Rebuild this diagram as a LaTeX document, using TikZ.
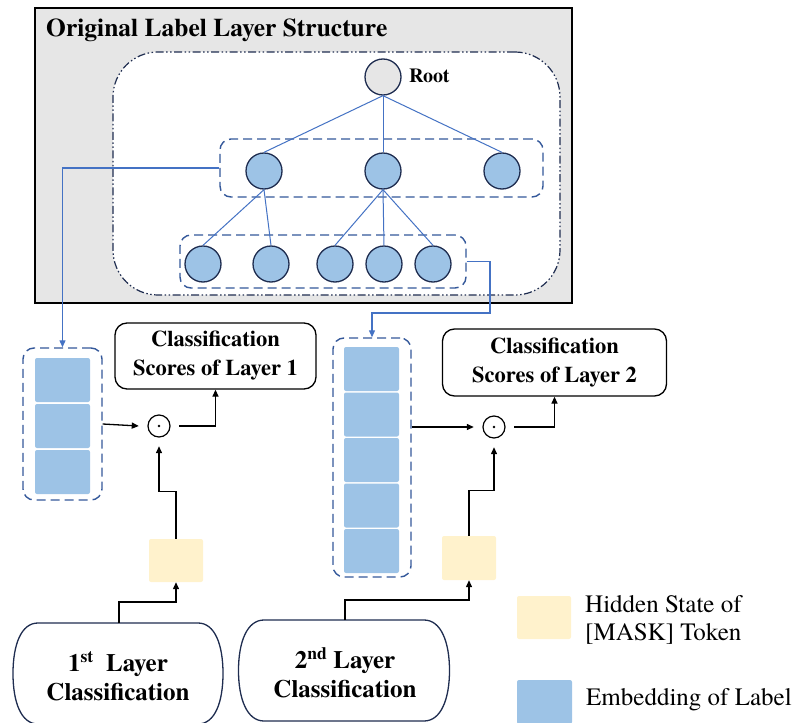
\documentclass[tikz,border=0pt]{standalone}
\usepackage{fontspec}
\setmainfont{TeX Gyre Termes}
\usetikzlibrary{arrows.meta}
\definecolor{embblue}{HTML}{9DC3E6}
\definecolor{hidyel}{HTML}{FFF2CC}
\definecolor{graybg}{HTML}{E6E6E6}
\definecolor{dashblue}{HTML}{34589A}
\definecolor{treeblue}{HTML}{4472C4}
\definecolor{navy}{HTML}{1F2D50}
\tikzset{
  treenode/.style={circle, draw=navy, line width=1.3pt, fill=embblue, minimum size=36pt, inner sep=0pt},
  rootnode/.style={treenode, fill=graybg},
  treeline/.style={draw=treeblue, line width=1pt},
  dashbox/.style={draw=dashblue, line width=1.4pt, dash pattern=on 9pt off 5pt, rounded corners=11pt, inner sep=0pt},
  embsq/.style={fill=embblue, rounded corners=2pt, minimum width=55pt, minimum height=44pt, inner sep=0pt},
  yelsq/.style={fill=hidyel, rounded corners=2pt, minimum width=54pt, minimum height=43pt, inner sep=0pt},
  blueconn/.style={draw=treeblue, line width=1.2pt, -{Triangle[length=7pt,width=6pt]}},
  blackconn/.style={draw=black, line width=1.3pt, -{Triangle[length=7pt,width=6pt]}},
  odotn/.style={circle, minimum size=40pt, inner sep=0pt},
  clsbox/.style={draw=black, line width=1.3pt, rounded corners=12pt, align=center, font=\fontsize{22.5}{29}\selectfont\bfseries, inner sep=0pt},
  bottext/.style={align=center, font=\fontsize{25}{29}\selectfont\bfseries, inner sep=0pt},
  legtext/.style={align=left, anchor=west, font=\fontsize{25}{28}\selectfont, inner sep=0pt},
  botshape/.style={draw=navy, line width=1.3pt, fill=white}
}
\begin{document}
\begin{tikzpicture}[x=1pt,y=-1pt]
\useasboundingbox (0,0) rectangle (801,723);
% outer gray box
\node[draw=black, line width=1.5pt, fill=graybg, minimum width=537pt, minimum height=295pt, inner sep=0pt] (outer) at (303.5,155.5) {};
\node[anchor=west, inner sep=0pt, font=\fontsize{25.5}{30}\selectfont\bfseries] (title) at (46,30) {Original Label Layer Structure};
% inner dash-dot box
\node[draw=navy, line width=1.2pt, fill=white, rounded corners=45pt, dash pattern=on 8pt off 2.5pt on 1.5pt off 2.5pt on 1.5pt off 2.5pt, minimum width=447pt, minimum height=243pt, inner sep=0pt] (inner) at (336.5,173.5) {};
% layer boxes
\node[dashbox, minimum width=323pt, minimum height=58pt] (L1box) at (381.5,168) {};
\node[dashbox, minimum width=286pt, minimum height=53pt] (L2box) at (323,261.5) {};
% tree nodes
\node[rootnode] (root) at (383,77) {};
\node[anchor=west, inner sep=0pt, font=\fontsize{20}{24}\selectfont\bfseries] (rootlab) at (409,76) {Root};
\node[treenode] (a1) at (264,171) {};
\node[treenode] (a2) at (383,171) {};
\node[treenode] (a3) at (502,171) {};
\node[treenode] (b1) at (203,264) {};
\node[treenode] (b2) at (271,264) {};
\node[treenode] (b3) at (335,264) {};
\node[treenode] (b4) at (384,264) {};
\node[treenode] (b5) at (433,264) {};
\draw[treeline] (root.south) -- (a1.north);
\draw[treeline] (root.south) -- (a2.north);
\draw[treeline] (root.south) -- (a3.north);
\draw[treeline] (a1.south) -- (b1.north);
\draw[treeline] (a1.south) -- (b2.north);
\draw[treeline] (a2.south) -- (b3.north);
\draw[treeline] (a2.south) -- (b4.north);
\draw[treeline] (a2.south) -- (b5.north);
% embedding group 1
\node[dashbox, minimum width=79pt, minimum height=152pt] (emb1) at (62.5,424) {};
\node[embsq] (e11) at (62.5,380) {};
\node[embsq] (e12) at (62.5,426) {};
\node[embsq] (e13) at (62.5,472) {};
% embedding group 2
\node[dashbox, minimum width=78pt, minimum height=239pt] (emb2) at (372,457.5) {};
\node[embsq] (e21) at (371.5,369) {};
\node[embsq] (e22) at (371.5,414.5) {};
\node[embsq] (e23) at (371.5,460) {};
\node[embsq] (e24) at (371.5,505.5) {};
\node[embsq] (e25) at (371.5,551) {};
% blue connectors
\draw[blueconn] (L1box.west) -| (emb1.north);
\coordinate (c2) at (490,313);
\draw[blueconn] (L2box.east) -| (c2) -| (emb2.north);
% classification score boxes
\node[clsbox, minimum width=201pt, minimum height=66pt] (cls1) at (215.5,356) {Classification\\Scores of Layer 1};
\node[clsbox, minimum width=224pt, minimum height=67pt] (cls2) at (554.5,362.5) {Classification\\Scores of Layer 2};
% odot nodes
\node[odotn] (o1) at (159,426) {};
\draw[line width=1.2pt] (o1.center) circle (11pt);
\fill (o1.center) circle (1.4pt);
\node[odotn] (o2) at (494,427) {};
\draw[line width=1.2pt] (o2.center) circle (11pt);
\fill (o2.center) circle (1.4pt);
% hidden states
\node[yelsq] (y1) at (176,560.5) {};
\node[yelsq, minimum height=44pt] (y2) at (469,558) {};
% black connectors
\draw[blackconn] (emb1.east) -- (o1.west);
\draw[blackconn] (o1.east) -| (cls1.south);
\draw[blackconn] (emb2.east |- o2.west) -- (o2.west);
\draw[blackconn] (o2.east) -| (cls2.south);
\draw[blackconn] (y1.north) -- ++(0,-47) -| (o1.south);
\draw[blackconn] (y2.north) -- ++(0,-45) -| (o2.south);
% bottom classification shapes
\path[botshape] (38,623) -- (198,623) .. controls (215,623) and (223,645) .. (223,673.5) .. controls (223,702) and (215,724) .. (198,724) -- (38,724) .. controls (21,724) and (13,702) .. (13,673.5) .. controls (13,645) and (21,623) .. (38,623) -- cycle;
\coordinate (l1top) at (119,623);
\node[bottext] (l1) at (118,676) {1\textsuperscript{st}~ Layer\\Classification};
\path[botshape] (264,620) -- (424,620) .. controls (441,620) and (449.5,642) .. (449.5,670.5) .. controls (449.5,699) and (441,721) .. (424,721) -- (264,721) .. controls (247,721) and (238.5,699) .. (238.5,670.5) .. controls (238.5,642) and (247,620) .. (264,620) -- cycle;
\coordinate (l2top) at (345,620);
\node[bottext] (l2) at (345,673) {2\textsuperscript{nd} Layer\\Classification};
\draw[blackconn] (l1top) -- ++(0,-21) -| (y1.south);
\draw[blackconn] (l2top) -- ++(0,-20) -| (y2.south);
% legend
\node[yelsq] (legy) at (544,617.5) {};
\node[legtext] (legyt) at (585,620) {Hidden State of\\{}[MASK] Token};
\node[embsq] (legb) at (544.5,702) {};
\node[legtext] (legbt) at (586,700) {Embedding of Label};
\end{tikzpicture}
\end{document}
